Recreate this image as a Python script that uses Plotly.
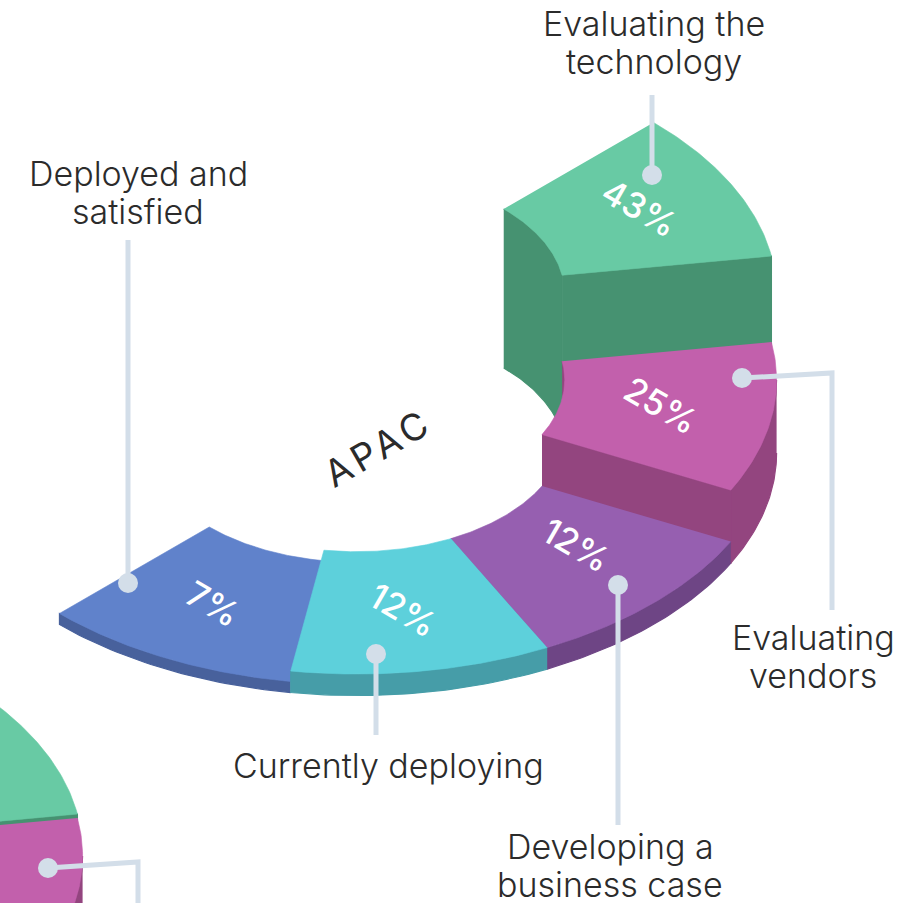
import numpy as np
import plotly.graph_objects as go

# slices run round the half ring, front left to back right
categories = ["Deployed and<br>satisfied", "Currently deploying", "Developing a<br>business case",
              "Evaluating<br>vendors", "Evaluating the<br>technology"]
values = [7, 12, 12, 25, 43]
title = "APAC"

# the neighbouring chart, cropped at the bottom left: only its last two slices show
next_values = [24, 25]

top_colors = ["#6082CB", "#5DD0DB", "#965FB0", "#C260AC", "#68CAA4"]
wall_colors = ["#48619C", "#469DA8", "#6E4585", "#93457F", "#469271"]
line_color = "#D3DEE9"
text_color = "#2B2B2B"
font = "Inter"

W, H = 917, 903
R, r = 343, 170
CX, CY = 356.5, 453
NEXT_CX, NEXT_CY = -337.5, 925
STEP = 36  # every slice takes the same angle, only the height follows the value

# value -> height of the slice in px
scale_value = [0, 7, 12, 25, 43]
scale_height = [0, 11, 21.5, 73, 159]


def height(v):
    return float(np.interp(v, scale_value, scale_height))


def project(rad, deg, cx, cy, lift=0):
    t = np.radians(deg)
    u, v = rad * np.cos(t), rad * np.sin(t)
    return cx + (u - v) * np.cos(np.pi / 6), cy + (u + v) * 0.5 - lift


fig = go.Figure()


def poly(xy_parts, color, name, edge=0.6):
    xs = np.concatenate([p[0] for p in xy_parts])
    ys = np.concatenate([p[1] for p in xy_parts])
    fig.add_trace(go.Scatter(x=xs, y=ys, mode="lines", fill="toself", fillcolor=color,
                             line=dict(width=edge, color=color), name=name, hoverinfo="name",
                             showlegend=False))


def wedge(t0, t1, h, top, wall, name, cx=CX, cy=CY):
    # inner wall only shows below -45 deg, outer wall only above it
    if t0 < -45:
        ts = np.linspace(t0, min(t1, -45), 40)
        poly([project(r, ts, cx, cy, h), project(r, ts[::-1], cx, cy)], wall, name, 1.2)
    if t1 > -45:
        ts = np.linspace(max(t0, -45), t1, 40)
        poly([project(R, ts, cx, cy, h), project(R, ts[::-1], cx, cy)], wall, name, 1.2)
    if t1 < 45:
        rs = np.array([r, R])
        poly([project(rs, t1, cx, cy, h), project(rs[::-1], t1, cx, cy)], wall, name, 1.2)
    ts = np.linspace(t0, t1, 60)
    poly([project(R, ts, cx, cy, h), project(r, ts[::-1], cx, cy, h)], top, name)


# the next chart sits behind this one
for i, v in [(4, next_values[1]), (3, next_values[0])]:
    t1 = 90 - STEP * i
    wedge(t1 - STEP, t1, height(v), top_colors[i], wall_colors[i], str(v) + "%", NEXT_CX, NEXT_CY)

# back to front; blue goes before teal because teal stands taller
for i in [4, 3, 2, 0, 1]:
    t1 = 90 - STEP * i
    wedge(t1 - STEP, t1, height(values[i]), top_colors[i], wall_colors[i],
          categories[i].replace("<br>", " "))

leaders = [
    ([128, 128], [240, 583]),
    ([376, 376], [735, 654]),
    ([618, 618], [825, 585]),
    ([832, 832, 742], [610, 373, 378]),
    ([652, 652], [95, 175]),
    ([138, 138, 48], [903, 862, 868]),
]
for xs, ys in leaders:
    fig.add_trace(go.Scatter(x=xs, y=ys, mode="lines", line=dict(color=line_color, width=5),
                             hoverinfo="skip", showlegend=False))
    fig.add_trace(go.Scatter(x=[xs[-1]], y=[ys[-1]], mode="markers", hoverinfo="skip", showlegend=False,
                             marker=dict(color=line_color, size=20)))

# percent labels sit on the middle of each top face, nudged by eye
pct_dx = [0, -2, -2, -6, 4]
pct_dy = [0, -1, -15, -3, -4]
for i, v in enumerate(values):
    x, y = project((R + r) / 2, 90 - STEP * i - STEP / 2, CX, CY, height(v))
    fig.add_annotation(x=float(x) + pct_dx[i], y=float(y) + pct_dy[i], text=f"{v}%", textangle=30,
                       showarrow=False, font=dict(family=font, size=35, color="white", weight=500))

fig.add_annotation(x=378, y=447, text=title, textangle=-30, showarrow=False,
                   font=dict(family=font, size=37, color=text_color, weight=400))

label_pos = [(138, 173), (388, 765), (610, 846), (813, 637), (654, 23)]
for cat, (x, y) in zip(categories, label_pos):
    for k, part in enumerate(cat.split("<br>")):
        fig.add_annotation(x=x, y=y + k * 38.5, text=part, showarrow=False,
                           font=dict(family=font, size=34, color=text_color, weight=300))

fig.update_layout(
    width=W, height=H, margin=dict(l=0, r=0, t=0, b=0),
    paper_bgcolor="white", plot_bgcolor="white",
    xaxis=dict(range=[0, W], visible=False, fixedrange=True),
    yaxis=dict(range=[H, 0], visible=False, fixedrange=True),
)

# the title is tracked out in the reference
post = """document.body.style.margin='0';
document.querySelectorAll('.annotation-text').forEach(function (t) {
  if (t.textContent === 'APAC') { t.style.letterSpacing = '5px'; }
});"""
fig.write_html("out.html", post_script=post, config=dict(displayModeBar=False))
